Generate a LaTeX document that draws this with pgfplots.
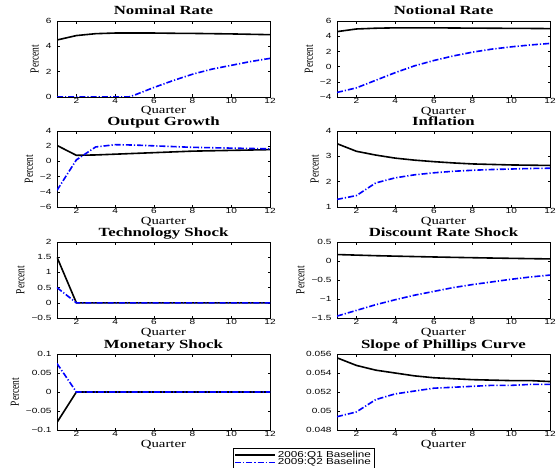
\documentclass[border=0pt]{standalone}
\usepackage{fontspec}
\usepackage{graphicx}
\usepackage{pgfplots}
\pgfplotsset{compat=1.18}
\setmainfont{Liberation Serif}
\newfontfamily\tickfont[FakeStretch=1.35]{Liberation Sans}
\newfontfamily\titlefont[FakeStretch=1.35]{Liberation Serif}

\definecolor{mblue}{RGB}{0,0,255}

\pgfplotsset{
  panel/.style={
    scale only axis, width=213bp, height=76bp,
    anchor=north west,
    xmin=1, xmax=12, xtick={2,4,...,12},
    tick align=inside, major tick length=2.5bp,
    axis line style={line width=0.6bp},
    every tick/.style={black, line width=0.5bp},
    /pgf/number format/assume math mode=true,
    scaled y ticks=false,
    ticklabel style={font=\tickfont\fontsize{7.5}{8}\selectfont},
    yticklabel style={xshift=-2bp},
    xticklabel style={inner sep=1.5bp},
    every axis title shift=0pt,
    title style={font=\titlefont\bfseries\fontsize{12.5}{14}\selectfont,
      at={(0.5,1)}, anchor=base, inner sep=0pt, yshift=6bp},
    xlabel=Quarter,
    xlabel style={font=\titlefont\fontsize{11}{12}\selectfont, inner sep=0pt,
      at={(0.5,0)}, anchor=base, yshift=-17bp},
    ylabel near ticks,
    ylabel style={font=\fontsize{9.5}{10}\selectfont, inner sep=3.5bp},
  },
  pct/.style={ylabel={\scalebox{1}[1.3]{Percent}}},
  base/.style={black, line width=1.6bp},
  alt/.style={mblue, line width=1.6bp, dash pattern=on 6bp off 2bp on 1.2bp off 2bp},
}

\begin{document}
\begin{tikzpicture}
\useasboundingbox (0,0) rectangle (559bp,-468bp);

% row 1
\begin{axis}[panel, pct, at={(57bp,-21bp)}, title={Nominal Rate},
  ymin=0, ymax=6, ytick={0,2,4,6}, yticklabels={0,2,4,6}]
\addplot[base] coordinates {(1,4.5) (2,4.85) (3,5.0) (4,5.05) (5,5.05) (6,5.05) (7,5.03) (8,5.02) (9,5.0) (10,4.98) (11,4.95) (12,4.92)};
\addplot[alt] coordinates {(1,0) (2,0) (3,0) (4,0) (4.7,0) (5,0.15) (6,0.75) (7,1.3) (8,1.8) (9,2.2) (10,2.5) (11,2.8) (12,3.05)};
\end{axis}

\begin{axis}[panel, pct, at={(337bp,-21bp)}, title={Notional Rate},
  ymin=-4, ymax=6, ytick={-4,-2,0,2,4,6}, yticklabels={−4,−2,0,2,4,6}]
\addplot[base] coordinates {(1,4.6) (2,4.95) (3,5.05) (4,5.1) (5,5.1) (6,5.1) (7,5.08) (8,5.06) (9,5.05) (10,5.03) (11,5.02) (12,5.0)};
\addplot[alt] coordinates {(1,-3.4) (2,-2.8) (3,-1.8) (4,-0.8) (5,0.1) (6,0.8) (7,1.4) (8,1.9) (9,2.3) (10,2.6) (11,2.85) (12,3.05)};
\end{axis}

% row 2
\begin{axis}[panel, pct, at={(57bp,-131bp)}, title={Output Growth},
  ymin=-6, ymax=4, ytick={-6,-4,-2,0,2,4}, yticklabels={−6,−4,−2,0,2,4}]
\addplot[base] coordinates {(1,2.1) (2,0.8) (3,0.85) (4,0.95) (5,1.05) (6,1.15) (7,1.25) (8,1.35) (9,1.4) (10,1.45) (11,1.5) (12,1.55)};
\addplot[alt] coordinates {(1,-3.8) (2,0.2) (3,1.9) (4,2.2) (5,2.15) (6,2.05) (7,1.95) (8,1.85) (9,1.8) (10,1.75) (11,1.7) (12,1.65)};
\end{axis}

\begin{axis}[panel, pct, at={(337bp,-131bp)}, title={Inflation},
  ymin=1, ymax=4, ytick={1,2,3,4}, yticklabels={1,2,3,4}]
\addplot[base] coordinates {(1,3.5) (2,3.2) (3,3.05) (4,2.93) (5,2.85) (6,2.79) (7,2.74) (8,2.70) (9,2.68) (10,2.66) (11,2.65) (12,2.64)};
\addplot[alt] coordinates {(1,1.3) (2,1.45) (3,1.95) (4,2.15) (5,2.27) (6,2.35) (7,2.41) (8,2.45) (9,2.48) (10,2.5) (11,2.52) (12,2.53)};
\end{axis}

% row 3
\begin{axis}[panel, pct, at={(57bp,-242bp)}, title={Technology Shock},
  ymin=-0.5, ymax=2, ytick={-0.5,0,0.5,1,1.5,2}, yticklabels={−0.5,0,0.5,1,1.5,2}]
\addplot[base] coordinates {(1,1.5) (2,0) (3,0) (4,0) (5,0) (6,0) (7,0) (8,0) (9,0) (10,0) (11,0) (12,0)};
\addplot[alt] coordinates {(1,0.5) (2,0) (3,0) (4,0) (5,0) (6,0) (7,0) (8,0) (9,0) (10,0) (11,0) (12,0)};
\end{axis}

\begin{axis}[panel, pct, at={(337bp,-242bp)}, title={Discount Rate Shock},
  ymin=-1.5, ymax=0.5, ytick={-1.5,-1,-0.5,0,0.5}, yticklabels={−1.5,−1,−0.5,0,0.5}]
\addplot[base] coordinates {(1,0.17) (2,0.155) (3,0.14) (4,0.128) (5,0.117) (6,0.106) (7,0.096) (8,0.087) (9,0.078) (10,0.07) (11,0.062) (12,0.055)};
\addplot[alt] coordinates {(1,-1.45) (2,-1.3) (3,-1.15) (4,-1.02) (5,-0.9) (6,-0.8) (7,-0.7) (8,-0.62) (9,-0.55) (10,-0.48) (11,-0.42) (12,-0.37)};
\end{axis}

% row 4
\begin{axis}[panel, pct, at={(57bp,-354bp)}, title={Monetary Shock},
  ymin=-0.1, ymax=0.1, ytick={-0.1,-0.05,0,0.05,0.1}, yticklabels={−0.1,−0.05,0,0.05,0.1}]
\addplot[base] coordinates {(1,-0.08) (2,0) (3,0) (4,0) (5,0) (6,0) (7,0) (8,0) (9,0) (10,0) (11,0) (12,0)};
\addplot[alt] coordinates {(1,0.075) (2,0) (3,0) (4,0) (5,0) (6,0) (7,0) (8,0) (9,0) (10,0) (11,0) (12,0)};
\end{axis}

\begin{axis}[panel, at={(337bp,-354bp)}, title={Slope of Phillips Curve},
  ymin=0.048, ymax=0.056, ytick={0.048,0.05,0.052,0.054,0.056},
  yticklabels={0.048,0.05,0.052,0.054,0.056},
  legend style={at={(-0.488,-0.237)}, anchor=north west, draw=black, line width=0.6bp,
    font=\tickfont\fontsize{8.7}{9}\selectfont, inner sep=1bp, row sep=-4.5bp},
  legend cell align=left,
  legend image code/.code={\draw[#1, line width=1.6bp] (0bp,0bp) -- (40bp,0bp);}]
\addplot[base] coordinates {(1,0.0556) (2,0.0548) (3,0.0543) (4,0.0540) (5,0.0537) (6,0.0535) (7,0.0534) (8,0.0533) (9,0.05325) (10,0.0532) (11,0.0532) (12,0.0531)};
\addlegendentry{2006:Q1 Baseline}
\addplot[alt] coordinates {(1,0.0494) (2,0.0499) (3,0.0512) (4,0.0518) (5,0.0521) (6,0.0524) (7,0.0525) (8,0.0526) (9,0.0527) (10,0.0527) (11,0.0528) (12,0.0528)};
\addlegendentry{2009:Q2 Baseline}
\end{axis}
\end{tikzpicture}
\end{document}
